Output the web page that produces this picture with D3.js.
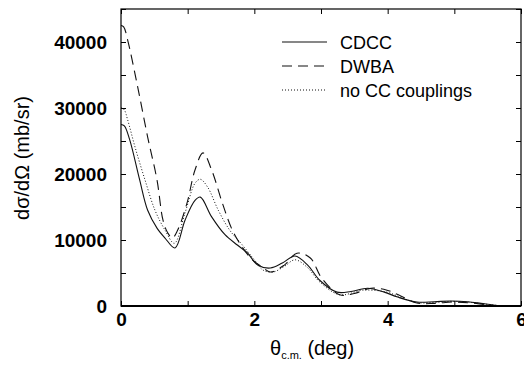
<!DOCTYPE html>
<html>
<head>
<meta charset="utf-8">
<script src="https://cdn.jsdelivr.net/npm/d3@7"></script>
<style>
  body { margin: 0; background: #fff; }
  text { font-family: "Liberation Sans", Arial, Helvetica, sans-serif; }
</style>
</head>
<body>
<div id="chart"></div>
<script>
// CDCC / DWBA / no CC couplings angular distributions

var cdccTheta = [0, 0.05, 0.13, 0.28, 0.4, 0.54, 0.66, 0.81, 0.96, 1.11, 1.19, 1.36, 1.56, 1.75, 1.9, 2.05, 2.24, 2.42, 2.61, 2.8, 2.98, 3.24, 3.45, 3.7, 3.95, 4.15, 4.44, 4.7, 4.94, 5.2, 5.4, 5.58, 5.75, 6.0];
var cdccValue = [27500, 27300, 25200, 19100, 14500, 11800, 10300, 8800, 13000, 16000, 16500, 13500, 10800, 9200, 8000, 6200, 5750, 6500, 7580, 6200, 3900, 2100, 2200, 2700, 2100, 1350, 600, 650, 750, 650, 400, 150, 0, 0];

var dwbaTheta = [0, 0.04, 0.1, 0.25, 0.4, 0.54, 0.63, 0.7, 0.77, 0.85, 0.99, 1.11, 1.23, 1.36, 1.52, 1.67, 1.82, 1.97, 2.12, 2.24, 2.45, 2.64, 2.84, 3.01, 3.28, 3.5, 3.75, 3.99, 4.16, 4.44, 4.7, 4.98, 5.25, 5.5, 5.75, 6.0];
var dwbaValue = [42500, 42300, 40300, 33200, 25600, 19100, 13000, 11100, 10300, 11500, 15600, 20600, 23200, 20600, 15600, 11500, 8900, 7000, 5900, 5150, 6200, 8000, 7270, 4240, 1700, 1900, 2700, 2400, 1700, 450, 400, 600, 450, 150, 0, 0];

var noccTheta = [0, 0.05, 0.1, 0.21, 0.36, 0.51, 0.66, 0.8, 0.96, 1.11, 1.19, 1.3, 1.46, 1.63, 1.82, 2.0, 2.13, 2.28, 2.45, 2.61, 2.8, 2.98, 3.28, 3.63, 3.99, 4.2, 4.44, 4.7, 4.96, 5.2, 5.45, 5.75, 6.0];
var noccValue = [30100, 29700, 28200, 24100, 19100, 14500, 11500, 9500, 14100, 18600, 19200, 18000, 14500, 11500, 9250, 7000, 5450, 5150, 6000, 7000, 5800, 3650, 1700, 2400, 2100, 1300, 500, 550, 700, 600, 300, 0, 0];

var seriesNames = ["CDCC", "DWBA", "no CC couplings"];
var seriesDash = [null, "10,6", "1,2"];

var xTicks = [0, 1, 2, 3, 4, 5, 6];
var yTicks = [0, 5000, 10000, 15000, 20000, 25000, 30000, 35000, 40000, 45000];

var W = 524, H = 367;
var margin = {top: 9, right: 3, bottom: 61, left: 121};
var width = W - margin.left - margin.right;
var height = H - margin.top - margin.bottom;

var svg = d3.select("#chart").append("svg")
    .attr("width", W).attr("height", H);
var g = svg.append("g")
    .attr("transform", "translate(" + margin.left + "," + margin.top + ")");

var x = d3.scaleLinear().domain([0, 6]).range([0, width]);
var y = d3.scaleLinear().domain([0, 45000]).range([height, 0]);

// clip so curves stay inside frame
g.append("clipPath").attr("id", "clip")
  .append("rect").attr("width", width).attr("height", height);

var line = d3.line()
    .x(function(d) { return x(d[0]); })
    .y(function(d) { return y(d[1]); })
    .curve(d3.curveCatmullRom.alpha(0.5));

var series = [
  d3.zip(cdccTheta, cdccValue),
  d3.zip(dwbaTheta, dwbaValue),
  d3.zip(noccTheta, noccValue)
];

series.forEach(function(s, i) {
  g.append("path")
    .attr("d", line(s))
    .attr("clip-path", "url(#clip)")
    .attr("fill", "none")
    .attr("stroke", "#111")
    .attr("stroke-width", i == 2 ? 1 : 1.1)
    .attr("stroke-dasharray", seriesDash[i]);
});

// axes, ticks pointing inwards
function styleAxis(sel) {
  sel.select(".domain").remove();
  sel.selectAll(".tick line").attr("stroke", "#000").attr("stroke-width", 1);
  sel.selectAll("text").attr("fill", "#000")
    .style("font-size", "19px").style("font-weight", "bold");
}

g.append("g")
  .attr("transform", "translate(0," + height + ")")
  .call(d3.axisBottom(x).tickValues(xTicks).tickSizeInner(-5).tickSizeOuter(0).tickPadding(7)
        .tickFormat(function(d) { return d % 2 ? "" : d; }))
  .call(styleAxis);
g.append("g")
  .call(d3.axisTop(x).tickValues(xTicks).tickSizeInner(-5).tickSizeOuter(0).tickFormat(""))
  .call(styleAxis);
g.append("g")
  .call(d3.axisLeft(y).tickValues(yTicks).tickSizeInner(-5).tickSizeOuter(0).tickPadding(14)
        .tickFormat(function(d) { return (d % 10000 || d > 40000) ? "" : d; }))
  .call(styleAxis);
g.append("g")
  .attr("transform", "translate(" + width + ",0)")
  .call(d3.axisRight(y).tickValues(yTicks).tickSizeInner(-5).tickSizeOuter(0).tickFormat(""))
  .call(styleAxis);

g.append("rect")
  .attr("width", width).attr("height", height)
  .attr("fill", "none").attr("stroke", "#000").attr("stroke-width", 1.2);
g.append("line")
  .attr("x1", 0).attr("x2", width).attr("y1", height).attr("y2", height)
  .attr("stroke", "#000").attr("stroke-width", 2);

// legend
var legend = svg.append("g");
seriesNames.forEach(function(name, i) {
  var ly = 42 + i * 24;
  legend.append("line")
    .attr("x1", 282).attr("x2", 327).attr("y1", ly).attr("y2", ly)
    .attr("stroke", "#111").attr("stroke-width", 1.1)
    .attr("stroke-dasharray", seriesDash[i]);
  legend.append("text")
    .attr("x", 340).attr("y", ly + 6.5)
    .style("font-size", "18px")
    .text(name);
});

// axis titles
var xt = svg.append("text")
  .attr("x", 270).attr("y", 355)
  .style("font-size", "20px");
xt.append("tspan").text("θ");
xt.append("tspan").attr("dy", 4).style("font-size", "11px").text("c.m.");
xt.append("tspan").attr("dy", -4).text(" (deg)");

svg.append("text")
  .attr("transform", "translate(29,158) rotate(-90)")
  .attr("text-anchor", "middle")
  .style("font-size", "20px")
  .text("dσ/dΩ (mb/sr)");
</script>
</body>
</html>
